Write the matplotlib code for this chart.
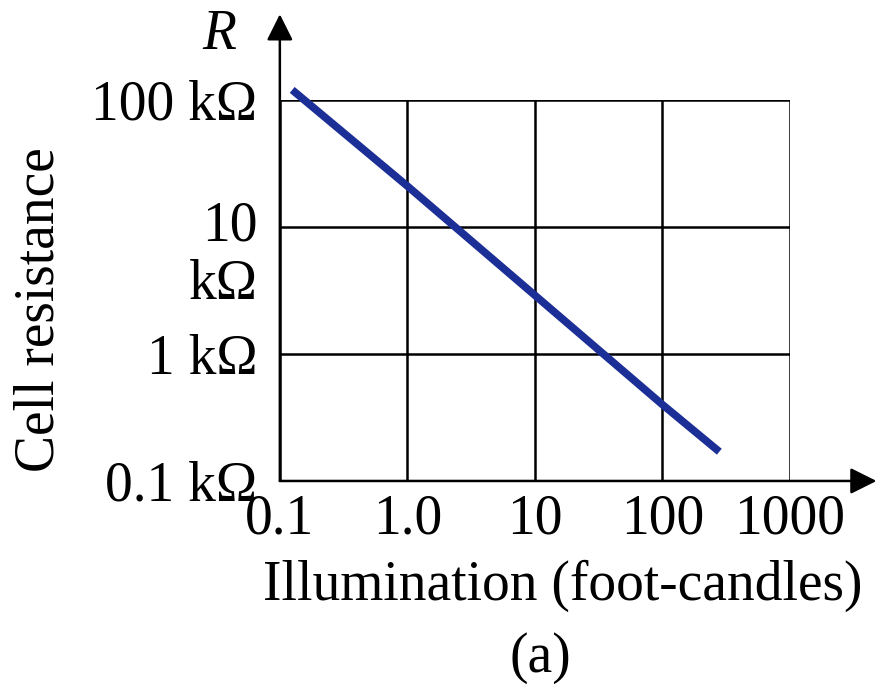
import matplotlib
matplotlib.use('Agg')
import matplotlib.pyplot as plt
import matplotlib.transforms as mtransforms

plt.rcParams['font.family'] = ['Liberation Serif', 'DejaVu Serif']

# values
illum = [0.125, 1.0, 10.0, 100.0, 280.0]          # foot-candles
resist_k = [120.0, 21.0, 2.9, 0.40, 0.17]          # kOhm
x_ticks = [0.1, 1.0, 10, 100, 1000]
x_ticklabels = ['0.1', '1.0', '10', '100', '1000']
y_ticks = [0.1, 1, 10, 100]
y_ticklabels = ['0.1 k\u03a9', '1 k\u03a9', '10', '100 k\u03a9']

FS = 40

fig = plt.figure(figsize=(8.8, 6.87), dpi=100)
ax = fig.add_axes([0.318, 0.2999, 0.5795, 0.5546])

ax.plot(illum, resist_k, color='#1c2f96', lw=5.5, solid_capstyle='butt',
        zorder=3, clip_on=False)

ax.set_xscale('log')
ax.set_yscale('log')
ax.set_xlim(0.1, 1000)
ax.set_ylim(0.1, 100)

ax.set_xticks(x_ticks)
ax.set_xticklabels(x_ticklabels)
ax.set_yticks(y_ticks)
ax.set_yticklabels(y_ticklabels)
ax.minorticks_off()
ax.tick_params(axis='both', length=0, labelsize=FS)
ax.tick_params(axis='x', pad=9)
ax.tick_params(axis='y', pad=16)

# lift the "10" label a little so its kOhm line fits below
for lbl in ax.get_yticklabels():
    if lbl.get_text() == '10':
        lbl.set_transform(lbl.get_transform() +
                          mtransforms.ScaledTranslation(0, 5 / 72, fig.dpi_scale_trans))

ax.grid(True, color='black', lw=1.8)
for s in ['top', 'right', 'left', 'bottom']:
    ax.spines[s].set_visible(False)

# arrowed axes
ax.annotate('', xy=(0, 1.225), xytext=(0, 0), xycoords='axes fraction',
            arrowprops=dict(arrowstyle='-|>', color='black', lw=1.8,
                            mutation_scale=40, shrinkA=0, shrinkB=0))
ax.annotate('', xy=(1.17, 0), xytext=(0, 0), xycoords='axes fraction',
            arrowprops=dict(arrowstyle='-|>', color='black', lw=1.8,
                            mutation_scale=40, shrinkA=0, shrinkB=0))

# second line of the "10 kOhm" label
trans = mtransforms.blended_transform_factory(ax.transAxes, ax.transData)
ax.text(-0.043, 3.5, 'k\u03a9', transform=trans, ha='right', va='center', fontsize=FS)

ax.text(-0.118, 1.17, 'R', transform=ax.transAxes, ha='center', va='center',
        fontsize=FS, style='italic')

fig.text(0.045, 0.549, 'Cell resistance', rotation=90, ha='center', va='center', fontsize=FS)
fig.text(0.639, 0.148, 'Illumination (foot-candles)', ha='center', va='center', fontsize=FS)
fig.text(0.614, 0.042, '(a)', ha='center', va='center', fontsize=FS)

fig.savefig('out.png', dpi=100)
